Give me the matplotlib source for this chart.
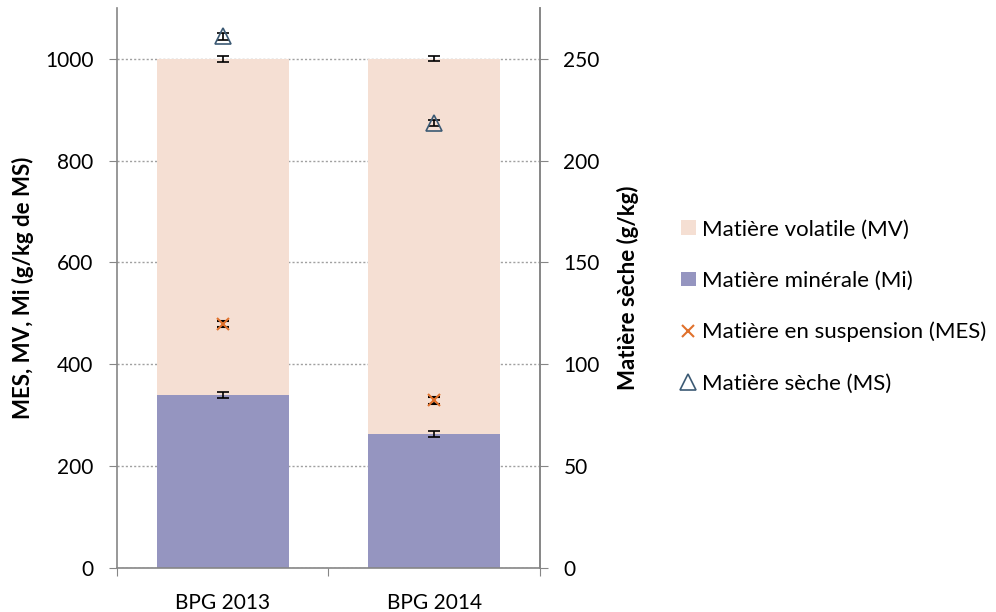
import numpy as np
import matplotlib.pyplot as plt
from matplotlib.patches import Patch
from matplotlib.lines import Line2D

plt.rcParams['font.family'] = ['Lato', 'DejaVu Sans']

categories = ['BPG 2013', 'BPG 2014']
mi = [340, 263]
mi_err = [6, 6]
mv = [660, 737]
mv_err = [6, 5]
mes = [479, 329]
mes_err = [6, 6]
ms = [261, 218.5]
ms_err = [1.5, 1.5]

c_mi = '#9595C0'
c_mv = '#F5DFD3'
c_mes = '#E0712C'
c_ms = '#3C5A74'

fig = plt.figure(figsize=(9.96, 6.12), dpi=100)
ax = fig.add_axes([0.1175, 0.072, 0.4245, 0.915])
ax2 = ax.twinx()

x = np.arange(len(categories))
ax.bar(x, mi, width=0.625, color=c_mi, zorder=2)
ax.bar(x, mv, width=0.625, bottom=mi, color=c_mv, zorder=2)
ax.errorbar(x, mi, yerr=mi_err, fmt='none', ecolor='black', capsize=4, elinewidth=1.2, capthick=1.2, zorder=3)
tops = np.array(mi) + np.array(mv)
ax.errorbar(x, tops, yerr=mv_err, fmt='none', ecolor='black', capsize=4, elinewidth=1.2, capthick=1.2, zorder=3)
ax.errorbar(x, mes, yerr=mes_err, fmt='x', color=c_mes, ecolor='black', markersize=8, mew=1.5,
            capsize=4, elinewidth=1.2, capthick=1.2, zorder=4)

ax2.errorbar(x, ms, yerr=ms_err, fmt='^', color=c_ms, mfc='none', ecolor='black', markersize=11, mew=1.2,
             capsize=4, elinewidth=1.2, capthick=1.2, zorder=4)

ax.set_xlim(-0.5, 1.5)
ax.set_ylim(0, 1100)
ax2.set_ylim(0, 275)
ax.set_yticks([0, 200, 400, 600, 800, 1000])
ax2.set_yticks([0, 50, 100, 150, 200, 250])
ax.set_xticks([-0.5, 0.5, 1.5], minor=False)
ax.set_xticklabels([])
ax.set_xticks(x, minor=True)
ax.set_xticklabels(categories, minor=True)
ax.tick_params(axis='x', which='major', length=6, color='#868686', direction='out')
ax.tick_params(axis='x', which='minor', length=0, labelsize=15, pad=18)
ax.tick_params(axis='y', length=6, color='#868686', labelsize=15, pad=11)
ax2.tick_params(axis='y', length=6, color='#868686', labelsize=15, pad=11)

for a in (ax, ax2):
    a.spines['top'].set_visible(False)
    for s in ('left', 'right', 'bottom'):
        a.spines[s].set_color('#868686')
        a.spines[s].set_linewidth(1.2)
ax2.spines['left'].set_visible(False)
ax2.spines['bottom'].set_visible(False)

ax.yaxis.grid(True, linestyle=(0, (1.5, 1.5)), color='#A0A0A0', linewidth=1, zorder=0)
ax.set_axisbelow(True)

ax.set_ylabel('MES, MV, Mi (g/kg de MS)', fontsize=16, fontweight='bold', labelpad=8)
ax2.set_ylabel('Matière sèche (g/kg)', fontsize=16, fontweight='bold', labelpad=12)

handles = [
    Patch(facecolor=c_mv, edgecolor='none'),
    Patch(facecolor=c_mi, edgecolor='none'),
    Line2D([], [], ls='none', marker='x', color=c_mes, markersize=9, mew=1.5),
    Line2D([], [], ls='none', marker='^', color=c_ms, mfc='none', markersize=11, mew=1.2),
]
labels = ['Matière volatile (MV)', 'Matière minérale (Mi)',
          'Matière en suspension (MES)', 'Matière sèche (MS)']
fig.legend(handles, labels, loc='center left', bbox_to_anchor=(0.684, 0.499), frameon=False,
           borderpad=0, borderaxespad=0, fontsize=16, handlelength=0.65, handleheight=0.65,
           handletextpad=0.3, labelspacing=1.4)

fig.savefig('out.png', dpi=100)
